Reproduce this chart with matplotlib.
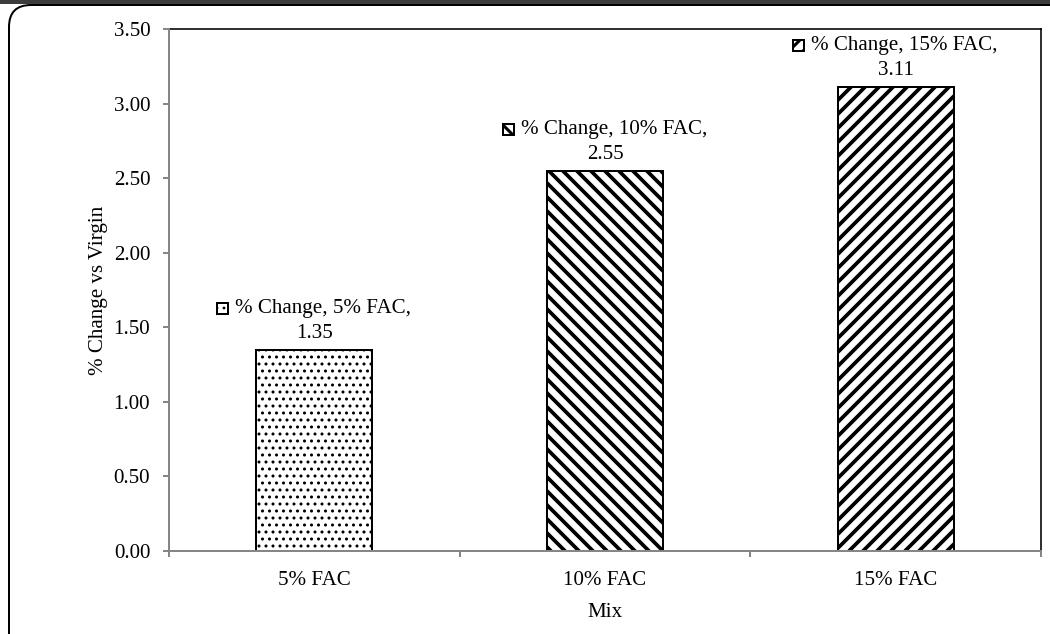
import matplotlib
matplotlib.use("Agg")
import matplotlib.pyplot as plt
from matplotlib.patches import Rectangle, FancyBboxPatch
from matplotlib.offsetbox import (AnnotationBbox, DrawingArea, TextArea,
                                  HPacker, VPacker)
from matplotlib.transforms import IdentityTransform

# ---- data ----
categories = ["5% FAC", "10% FAC", "15% FAC"]
values = [1.35, 2.55, 3.11]
series_name = "% Change"
hatches = ["..", "\\\\", "//"]
y_ticks = [0.0, 0.5, 1.0, 1.5, 2.0, 2.5, 3.0, 3.5]
x_title = "Mix"
y_title = "% Change vs Virgin"

DPI = 84
W, H = 1050, 634
FS = 18
plt.rcParams["font.family"] = ["Liberation Serif", "DejaVu Serif"]
plt.rcParams["font.size"] = FS
plt.rcParams["hatch.color"] = "black"


def with_hatch_lw(artist, lw):
    orig = artist.draw

    def draw(renderer, *args, **kwargs):
        with plt.rc_context({"hatch.linewidth": lw}):
            return orig(renderer, *args, **kwargs)
    artist.draw = draw
    if hasattr(artist, "set_hatch_linewidth"):
        artist.set_hatch_linewidth(lw)


fig = plt.figure(figsize=(W / DPI, H / DPI), dpi=DPI)
fig.patch.set_facecolor("white")

# outer frame (rounded) and dark top band
frame = FancyBboxPatch((9, -40), 1100, (H - 5) + 40,
                       boxstyle="round,pad=0,rounding_size=22",
                       transform=IdentityTransform(), facecolor="white",
                       edgecolor="black", linewidth=2.0 * 72 / DPI, zorder=-10)
fig.patches.append(frame)
band = Rectangle((0, H - 4), W, 4, transform=IdentityTransform(),
                 facecolor="#3c3c3c", edgecolor="none", zorder=-9)
fig.patches.append(band)

ax = fig.add_axes([169 / W, (H - 551) / H, (1041 - 169) / W, (551 - 29) / H])
ax.set_facecolor("white")

x = list(range(len(categories)))
for i, (xi, v, h) in enumerate(zip(x, values, hatches)):
    hlw = 1.4 if h.startswith(".") else 3.2
    b = ax.bar(xi, v, width=0.4, facecolor="white", edgecolor="black",
               linewidth=2.0 * 72 / DPI, hatch=h, zorder=3)
    for p in b.patches:
        with_hatch_lw(p, hlw)

ax.set_xlim(-0.5, len(categories) - 0.5)
ax.set_ylim(y_ticks[0], y_ticks[-1])
ax.set_yticks(y_ticks)
ax.set_yticklabels([f"{t:.2f}" for t in y_ticks])
ax.set_xticks(x)
ax.set_xticklabels(categories)
ax.set_xticks([i - 0.5 for i in range(len(categories) + 1)], minor=True)

gray = "#868686"
for s in ["left", "bottom"]:
    ax.spines[s].set_color(gray)
    ax.spines[s].set_linewidth(2.0 * 72 / DPI)
for s in ["top", "right"]:
    ax.spines[s].set_color("black")
    ax.spines[s].set_linewidth(1.6 * 72 / DPI)
ax.spines["left"].set_zorder(4)
ax.spines["bottom"].set_zorder(4)

ax.tick_params(axis="y", direction="out", length=6 * 72 / DPI,
               width=2 * 72 / DPI, color=gray, pad=11, labelsize=FS)
ax.tick_params(axis="x", which="major", length=0, pad=17.5, labelsize=FS)
ax.tick_params(axis="x", which="minor", direction="out",
               length=6 * 72 / DPI, width=2 * 72 / DPI, color=gray)

ax.set_xlabel(x_title, fontsize=FS)
ax.set_ylabel(y_title, fontsize=FS)
ax.yaxis.set_label_coords((108 - 169) / (1041 - 169), 0.5)
ax.xaxis.set_label_coords(0.5, (551 - 603) / (551 - 29))

# data labels with legend keys
sq = 11 * 72 / DPI
for i, (xi, v, h) in enumerate(zip(x, values, hatches)):
    hlw = 1.2 if h.startswith(".") else 2.6
    da = DrawingArea(sq, sq, 0, 0)
    r = Rectangle((0, 0), sq, sq, facecolor="white", edgecolor="black",
                  linewidth=2.0 * 72 / DPI, hatch=h)
    with_hatch_lw(r, hlw)
    da.add_artist(r)
    t1 = TextArea(f"{series_name}, {categories[i]},",
                  textprops=dict(fontsize=FS, color="black"))
    row1 = HPacker(children=[da, t1], align="center", pad=0, sep=6)
    t2 = TextArea(f"{v:.2f}", textprops=dict(fontsize=FS, color="black"))
    box = VPacker(children=[row1, t2], align="center", pad=0, sep=5)
    ab = AnnotationBbox(box, (xi, v), xybox=(0, 6), xycoords="data",
                        boxcoords="offset points", box_alignment=(0.5, 0),
                        frameon=False, pad=0, zorder=5)
    ax.add_artist(ab)

fig.savefig("out.png", dpi=DPI, facecolor=fig.get_facecolor())
